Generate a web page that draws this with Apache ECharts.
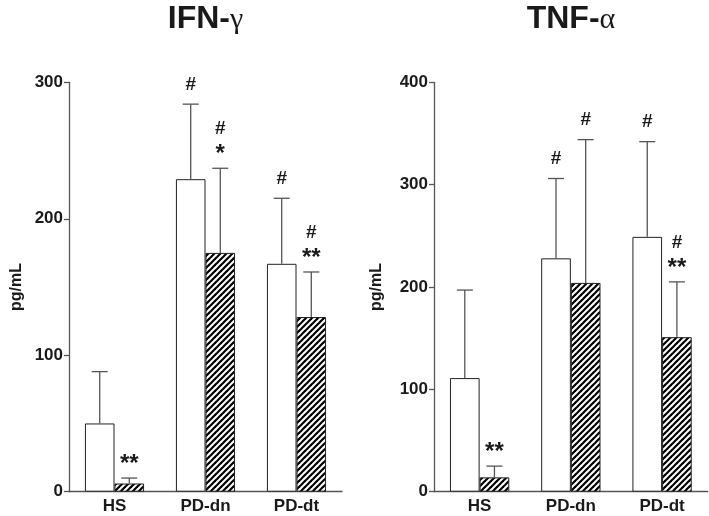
<!DOCTYPE html>
<html>
<head>
<meta charset="utf-8">
<script src="https://cdn.jsdelivr.net/npm/echarts@6/dist/echarts.min.js"></script>
<style>html,body{margin:0;padding:0;background:#fff}#c{width:709px;height:516px}</style>
</head>
<body>
<div id="c"></div>
<script>
const categories = ['HS', 'PD-dn', 'PD-dt'];

// IFN-gamma
const ifnOpen = [50, 229, 167];
const ifnOpenErr = [88, 284, 215];
const ifnHatch = [6, 175, 128];
const ifnHatchErr = [10, 237, 161];
const ifnOpenNotes = ['', '#', '#'];
const ifnHatchNotes = ['**', '#\n*', '#\n**'];
const ifnTicks = [0, 100, 200, 300];

// TNF-alpha
const tnfOpen = [111, 228, 249];
const tnfOpenErr = [197, 306, 342];
const tnfHatch = [14, 204, 151];
const tnfHatchErr = [25, 344, 205];
const tnfOpenNotes = ['', '#', '#'];
const tnfHatchNotes = ['**', '#', '#\n**'];
const tnfTicks = [0, 100, 200, 300, 400];

const FONT = '"Liberation Sans", Arial, sans-serif';
const TXT = '#1a1a1a';
const AX = '#555';

function makePattern() {
  const s = 6;
  const cv = document.createElement('canvas');
  cv.width = s; cv.height = s;
  const g = cv.getContext('2d');
  g.fillStyle = '#fff';
  g.fillRect(0, 0, s, s);
  g.strokeStyle = '#000';
  g.lineWidth = 2.2;
  for (let k = -1; k <= 1; k++) {
    g.beginPath();
    g.moveTo(k * s - 1, s + 1);
    g.lineTo(k * s + s + 1, -1);
    g.stroke();
  }
  return { image: cv, repeat: 'repeat' };
}
const hatch = makePattern();

const CAT_GAP = 0.35;

function errSeries(gridIdx, which, vals, errs, notes) {
  return {
    type: 'custom',
    xAxisIndex: gridIdx, yAxisIndex: gridIdx,
    z: 5,
    data: vals.map((v, i) => [i, v, errs[i]]),
    renderItem: function (params, api) {
      const i = api.value(0);
      const v = api.value(1);
      const e = api.value(2);
      const band = api.size([1, 0])[0];
      const bw = band * (1 - CAT_GAP) / 2;
      const c = api.coord([i, v]);
      const x = c[0] + (which === 0 ? -bw / 2 : bw / 2);
      const top = api.coord([i, e])[1];
      const note = notes[params.dataIndex];
      const children = [
        { type: 'line', shape: { x1: x, y1: c[1], x2: x, y2: top }, style: { stroke: AX, lineWidth: 1.3 } },
        { type: 'line', shape: { x1: x - 8, y1: top, x2: x + 8, y2: top }, style: { stroke: AX, lineWidth: 1.3 } }
      ];
      if (note) {
        const lines = note.split('\n');
        const n = lines.length;
        lines.forEach(function (ln, k) {
          const cy = top - 20 - 20 * (n - 1 - k);
          const isStar = ln.indexOf('*') >= 0;
          children.push({
            type: 'text',
            style: {
              text: ln, x: x, y: isStar ? cy + 6 : cy + 0.5,
              textAlign: 'center', textVerticalAlign: 'middle',
              font: 'bold ' + (isStar ? 24 : 19) + 'px ' + FONT, fill: TXT
            }
          });
        });
      }
      return { type: 'group', children: children };
    }
  };
}

function barSeries(gridIdx, vals, fill) {
  return {
    type: 'bar',
    xAxisIndex: gridIdx, yAxisIndex: gridIdx,
    data: vals,
    barGap: '0%',
    barCategoryGap: (CAT_GAP * 100) + '%',
    itemStyle: { color: fill, borderColor: '#222', borderWidth: 1 },
    silent: true
  };
}

function xAxis(gridIdx) {
  return {
    type: 'category', gridIndex: gridIdx, data: categories,
    axisLine: { lineStyle: { color: AX, width: 1.3 } },
    axisTick: { alignWithLabel: true, length: 5, lineStyle: { color: AX, width: 1.3 } },
    axisLabel: { color: TXT, fontFamily: FONT, fontWeight: 'bold', fontSize: 17, margin: 6 },
    splitLine: { show: false }
  };
}

function yAxis(gridIdx, ticks, nameGap) {
  return {
    type: 'value', gridIndex: gridIdx,
    min: ticks[0], max: ticks[ticks.length - 1], interval: ticks[1] - ticks[0],
    name: 'pg/mL', nameLocation: 'middle', nameGap: nameGap, nameRotate: 90,
    nameTextStyle: { color: TXT, fontFamily: FONT, fontWeight: 'bold', fontSize: 16 },
    axisLine: { show: true, lineStyle: { color: AX, width: 1.3 } },
    axisTick: { show: true, length: 5, lineStyle: { color: AX, width: 1.3 } },
    axisLabel: { color: TXT, fontFamily: FONT, fontWeight: 'bold', fontSize: 17, margin: 6 },
    splitLine: { show: false }
  };
}

function titleText(x, main, greek) {
  return {
    type: 'text', x: x, y: 19,
    style: {
      text: '{a|' + main + '}{b|' + greek + '}',
      textAlign: 'center', textVerticalAlign: 'middle',
      rich: {
        a: { font: 'bold 32px ' + FONT, fill: TXT, verticalAlign: 'bottom' },
        b: { font: '30px "Liberation Serif", "DejaVu Serif", serif', fill: TXT, verticalAlign: 'bottom' }
      }
    }
  };
}

const chart = echarts.init(document.getElementById('c'), null, { renderer: 'canvas' });
chart.setOption({
  animation: false,
  backgroundColor: '#fff',
  grid: [
    { left: 69, right: 367, top: 82.3, bottom: 24.3 },
    { left: 434, right: 1.3, top: 82.3, bottom: 24.3 }
  ],
  xAxis: [xAxis(0), xAxis(1)],
  yAxis: [yAxis(0, ifnTicks, 44), yAxis(1, tnfTicks, 49)],
  graphic: [titleText(205.5, 'IFN-', 'γ'), titleText(571, 'TNF-', 'α')],
  series: [
    barSeries(0, ifnOpen, '#fff'),
    barSeries(0, ifnHatch, hatch),
    errSeries(0, 0, ifnOpen, ifnOpenErr, ifnOpenNotes),
    errSeries(0, 1, ifnHatch, ifnHatchErr, ifnHatchNotes),
    barSeries(1, tnfOpen, '#fff'),
    barSeries(1, tnfHatch, hatch),
    errSeries(1, 0, tnfOpen, tnfOpenErr, tnfOpenNotes),
    errSeries(1, 1, tnfHatch, tnfHatchErr, tnfHatchNotes)
  ]
});
</script>
</body>
</html>
